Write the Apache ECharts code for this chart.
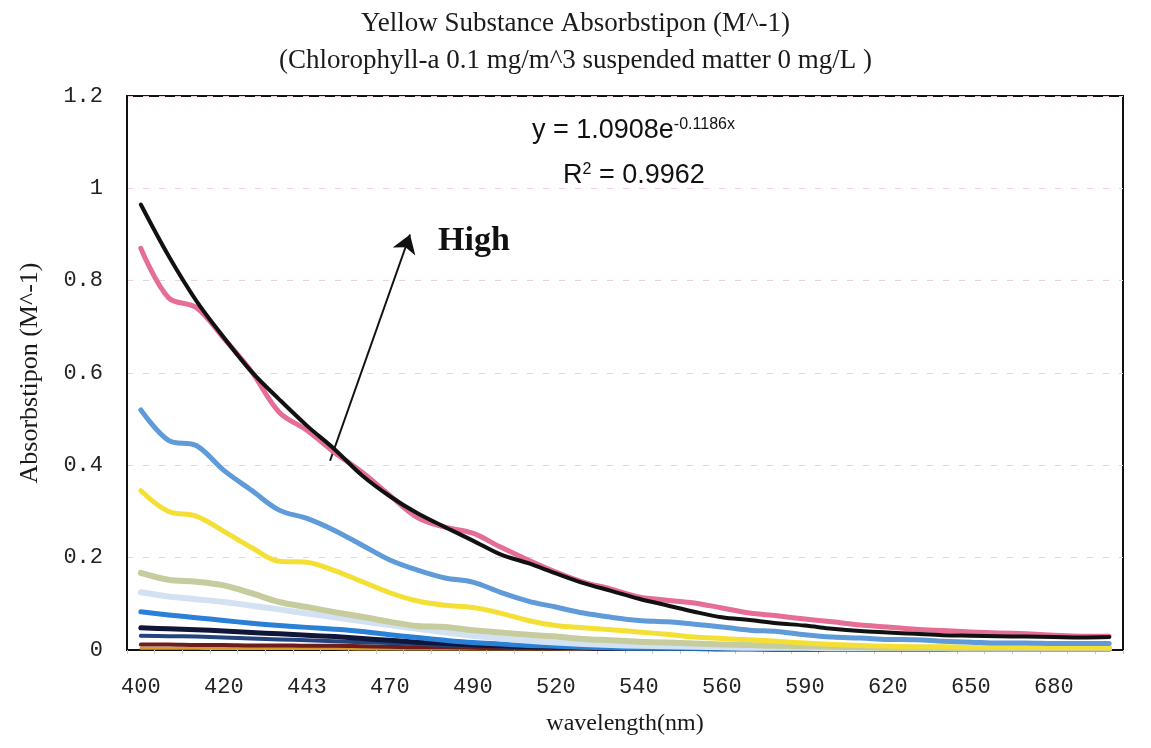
<!DOCTYPE html>
<html>
<head>
<meta charset="utf-8">
<title>Yellow Substance Absorbstipon</title>
<script src="https://cdn.jsdelivr.net/npm/echarts@6.0.0/dist/echarts.min.js"></script>
<style>
  html, body { margin: 0; padding: 0; background: #fff; }
  #chart { width: 1151px; height: 748px; }
</style>
</head>
<body>
<div id="chart"></div>
<script>
// wavelength samples (nm); only every 3rd one carries a label on the axis
const wavelengths = ['400', '407', '413', '420', '428', '435', '443', '452', '461', '470', '477', '483',
  '490', '500', '510', '520', '527', '533', '540', '547', '553', '560', '570', '580',
  '590', '600', '610', '620', '630', '640', '650', '660', '670', '680', '690', '700']

// absorption curves, highest first
const blackLine = [0.965, 0.854, 0.757, 0.677, 0.603, 0.543, 0.486, 0.435, 0.378, 0.333, 0.296, 0.266,
  0.237, 0.207, 0.188, 0.166, 0.145, 0.128, 0.111, 0.097, 0.083, 0.071, 0.065, 0.058,
  0.053, 0.046, 0.041, 0.038, 0.035, 0.032, 0.031, 0.030, 0.029, 0.028, 0.027, 0.028]
const pinkLine = [0.870, 0.763, 0.742, 0.675, 0.603, 0.515, 0.476, 0.428, 0.385, 0.335, 0.287, 0.266,
  0.253, 0.223, 0.195, 0.169, 0.147, 0.132, 0.115, 0.108, 0.102, 0.091, 0.080, 0.074,
  0.067, 0.061, 0.054, 0.050, 0.045, 0.042, 0.039, 0.037, 0.035, 0.032, 0.030, 0.030]
const blueLine = [0.520, 0.454, 0.443, 0.389, 0.346, 0.303, 0.285, 0.259, 0.227, 0.195, 0.173, 0.156,
  0.147, 0.125, 0.106, 0.093, 0.080, 0.071, 0.064, 0.061, 0.056, 0.050, 0.043, 0.040,
  0.033, 0.028, 0.026, 0.023, 0.022, 0.019, 0.017, 0.015, 0.015, 0.014, 0.014, 0.014]
const yellowLine = [0.345, 0.300, 0.290, 0.257, 0.222, 0.192, 0.190, 0.172, 0.148, 0.124, 0.106, 0.097,
  0.092, 0.080, 0.064, 0.053, 0.048, 0.044, 0.039, 0.034, 0.028, 0.025, 0.022, 0.019,
  0.015, 0.012, 0.010, 0.008, 0.007, 0.007, 0.006, 0.006, 0.006, 0.005, 0.005, 0.005]
const khakiLine = [0.167, 0.152, 0.148, 0.140, 0.123, 0.104, 0.093, 0.082, 0.072, 0.061, 0.052, 0.050,
  0.043, 0.038, 0.033, 0.029, 0.024, 0.021, 0.018, 0.016, 0.014, 0.012, 0.011, 0.009,
  0.008, 0.007, 0.006, 0.005, 0.005, 0.005, 0.004, 0.004, 0.004, 0.004, 0.004, 0.004]
const paleBlueLine = [0.125, 0.116, 0.110, 0.104, 0.096, 0.088, 0.079, 0.071, 0.062, 0.054, 0.046, 0.038,
  0.031, 0.025, 0.020, 0.016, 0.013, 0.011, 0.009, 0.008, 0.007, 0.006, 0.005, 0.005,
  0.005, 0.004, 0.004, 0.004, 0.004, 0.004, 0.003, 0.003, 0.003, 0.003, 0.003, 0.003]
const brightBlueLine = [0.083, 0.076, 0.070, 0.064, 0.058, 0.053, 0.049, 0.045, 0.040, 0.033, 0.027, 0.021,
  0.016, 0.013, 0.010, 0.008, 0.006, 0.005, 0.004, 0.004, 0.004, 0.004, 0.004, 0.003,
  0.003, 0.003, 0.003, 0.003, 0.003, 0.003, 0.003, 0.003, 0.003, 0.003, 0.003, 0.003]
const navyLine = [0.048, 0.046, 0.044, 0.041, 0.038, 0.035, 0.032, 0.029, 0.025, 0.021, 0.017, 0.014,
  0.011, 0.009, 0.007, 0.006, 0.005, 0.004, 0.004, 0.003, 0.003, 0.003, 0.003, 0.002,
  0.002, 0.002, 0.002, 0.002, 0.002, 0.002, 0.002, 0.002, 0.002, 0.002, 0.002, 0.002]
const darkBlueLine = [0.031, 0.030, 0.029, 0.027, 0.025, 0.023, 0.021, 0.019, 0.017, 0.015, 0.013, 0.011,
  0.009, 0.008, 0.006, 0.005, 0.004, 0.004, 0.003, 0.003, 0.003, 0.002, 0.002, 0.002,
  0.002, 0.002, 0.002, 0.002, 0.002, 0.002, 0.002, 0.002, 0.002, 0.002, 0.002, 0.002]
const maroonLine = [0.012, 0.012, 0.011, 0.011, 0.010, 0.010, 0.009, 0.009, 0.008, 0.007, 0.006, 0.006,
  0.005, 0.004, 0.004, 0.003, 0.003, 0.002, 0.002, 0.002, 0.002, 0.001, 0.001, 0.001,
  0.001, 0.001, 0.001, 0.001, 0.001, 0.001, 0.001, 0.001, 0.001, 0.001, 0.001, 0.001]
const orangeLine = [0.004, 0.004, 0.004, 0.003, 0.003, 0.003, 0.003, 0.003, 0.002, 0.002, 0.002, 0.002,
  0.002, 0.002, 0.002, 0.002, 0.001, 0.001, 0.001, 0.001, 0.001, 0.001, 0.001, 0.001,
  0.001, 0.001, 0.001, 0.001, 0.001, 0.001, 0.001, 0.001, 0.001, 0.001, 0.001, 0.001]

// "High" arrow, in (sample index, absorption) units
const arrowFrom = [6.84, 0.41]
const arrowTo = [9.73, 0.90]

const serif = '"Liberation Serif", "DejaVu Serif", serif'
const mono = '"Liberation Mono", "DejaVu Sans Mono", monospace'
const sans = '"Liberation Sans", Arial, sans-serif'

function curve (data, color, width) {
  return {
    type: 'line',
    data,
    smooth: 0.35,
    showSymbol: false,
    silent: true,
    lineStyle: { color, width, cap: 'round', join: 'round' }
  }
}

const eqRich = {
  a: { fontFamily: sans, fontSize: 27, fontWeight: 'normal', color: '#111' },
  b: { fontFamily: sans, fontSize: 16, fontWeight: 'normal', color: '#111', verticalAlign: 'top' }
}

const chart = echarts.init(document.getElementById('chart'))
const option = {
  backgroundColor: '#ffffff',
  animation: false,
  title: [
    {
      text: 'Yellow Substance Absorbstipon (M^-1)\n(Chlorophyll-a 0.1 mg/m^3 suspended matter 0 mg/L )',
      left: 'center',
      top: 0,
      textStyle: { fontFamily: serif, fontSize: 27, fontWeight: 'normal', color: '#1a1a1a', lineHeight: 37 }
    },
    {
      text: '{a|y = 1.0908e}{b|-0.1186x}',
      left: 527,
      top: 112,
      textStyle: { fontWeight: 'normal', rich: eqRich }
    },
    {
      text: '{a|R}{b|2}{a| = 0.9962}',
      left: 558,
      top: 157,
      textStyle: { fontWeight: 'normal', rich: eqRich }
    },
    {
      text: 'High',
      left: 433,
      top: 219,
      textStyle: { fontFamily: serif, fontSize: 34, fontWeight: 'bold', color: '#111' }
    }
  ],
  grid: {
    left: 127,
    right: 28,
    top: 96,
    bottom: 98,
    show: true,
    borderColor: '#111',
    borderWidth: 2,
    backgroundColor: 'transparent'
  },
  xAxis: [
    {
      type: 'category',
      data: wavelengths,
      boundaryGap: true,
      name: 'wavelength(nm)',
      nameLocation: 'middle',
      nameGap: 62,
      nameTextStyle: { fontFamily: serif, fontSize: 24, color: '#1a1a1a' },
      axisLine: { lineStyle: { color: '#111', width: 2 } },
      axisTick: { show: true, interval: 0, length: 4, lineStyle: { color: '#c8c8c8' } },
      axisLabel: { interval: 2, margin: 26, fontFamily: mono, fontSize: 22, color: '#222' },
      splitLine: { show: false }
    },
    {
      // plain numeric twin of the category axis, used only to place the arrow
      type: 'value',
      show: false,
      min: -0.5,
      max: wavelengths.length - 0.5
    }
  ],
  yAxis: {
    type: 'value',
    min: 0,
    max: 1.2,
    interval: 0.2,
    name: 'Absorbstipon (M^-1)',
    nameLocation: 'middle',
    nameGap: 84,
    nameRotate: 90,
    nameTextStyle: { fontFamily: serif, fontSize: 26, color: '#1a1a1a' },
    axisLine: { show: true, onZero: false, lineStyle: { color: '#111', width: 2 } },
    axisTick: { show: false },
    axisLabel: { margin: 24, fontFamily: mono, fontSize: 22, color: '#222' },
    splitLine: { lineStyle: { color: '#ead3d8', type: [6, 10], width: 1 } }
  },
  series: [
    curve(orangeLine, '#d89a2a', 3),
    curve(maroonLine, '#6e1c1c', 4),
    curve(darkBlueLine, '#24447e', 4),
    curve(navyLine, '#10163a', 5),
    curve(brightBlueLine, '#2a7fd6', 5),
    curve(paleBlueLine, '#d3e2f2', 6),
    curve(khakiLine, '#c6cc9e', 6),
    curve(yellowLine, '#f4e034', 5),
    curve(blueLine, '#5f9bd8', 5),
    curve(pinkLine, '#e66d93', 5),
    curve(blackLine, '#111111', 4),
    {
      type: 'lines',
      coordinateSystem: 'cartesian2d',
      xAxisIndex: 1,
      yAxisIndex: 0,
      silent: true,
      symbol: ['none', 'arrow'],
      symbolSize: 18,
      lineStyle: { color: '#111', width: 2, opacity: 1, curveness: 0 },
      data: [{ coords: [arrowFrom, arrowTo] }]
    }
  ]
}
chart.setOption(option)
</script>
</body>
</html>
